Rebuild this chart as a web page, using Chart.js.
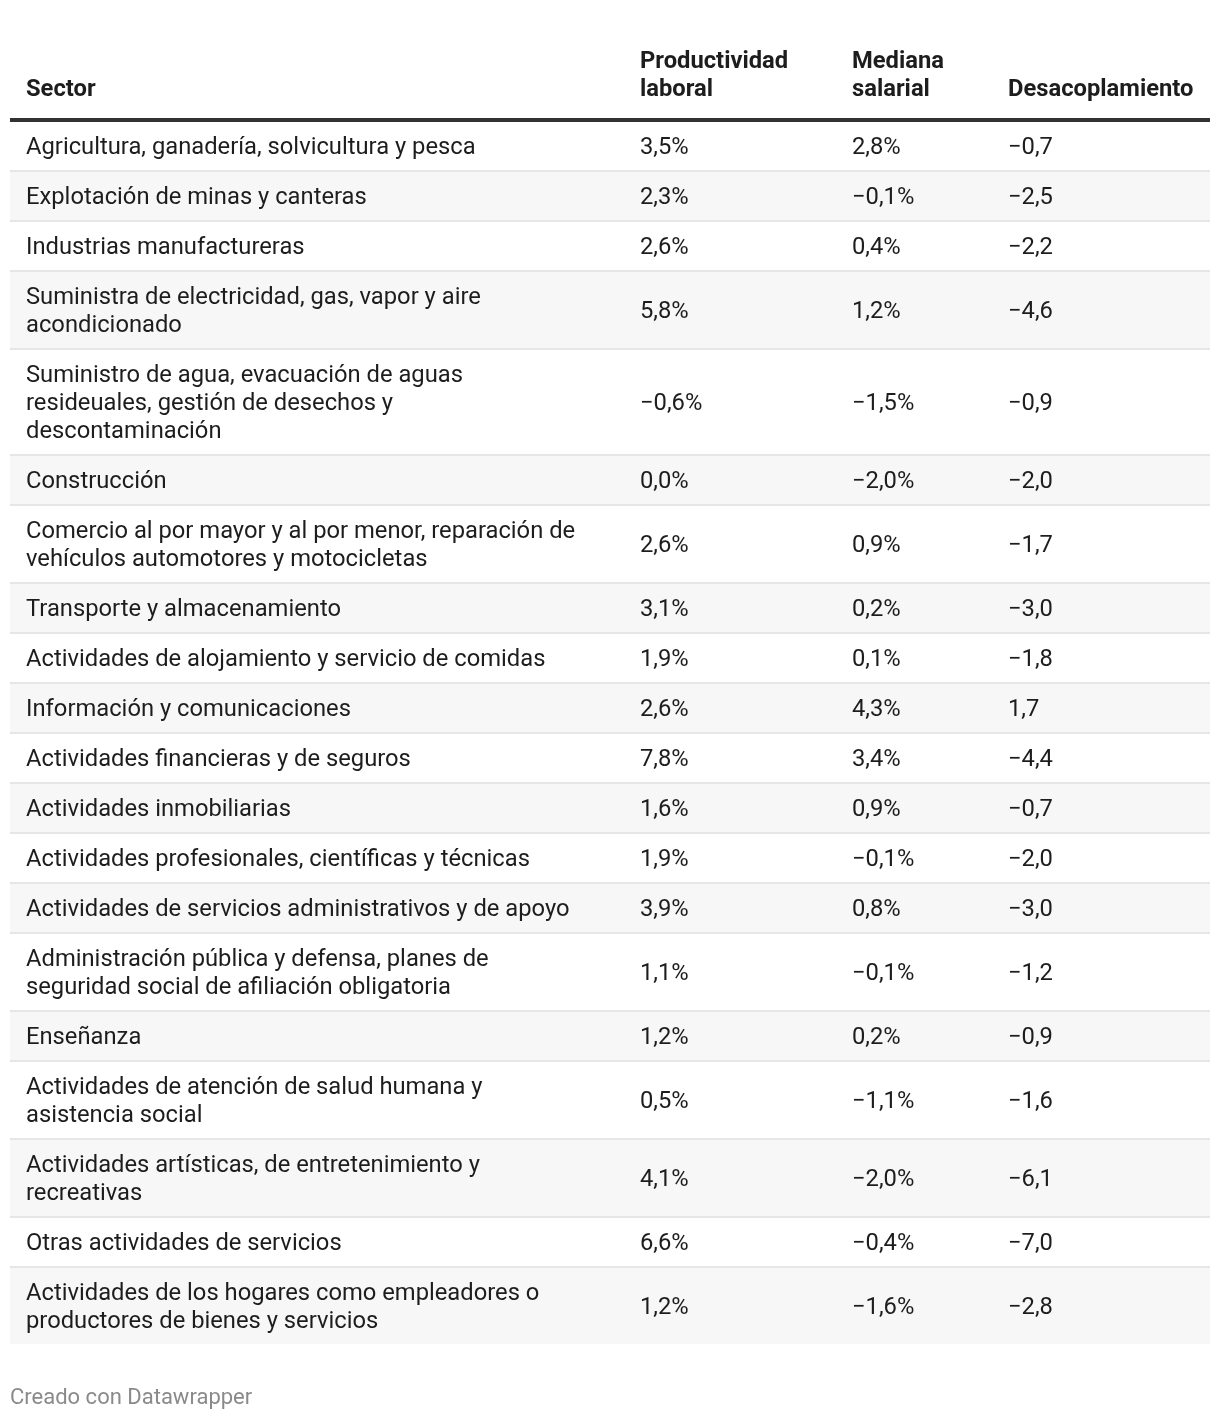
<!DOCTYPE html>
<html>
<head>
<meta charset="utf-8">
<script src="https://cdn.jsdelivr.net/npm/chart.js@4.4.0/dist/chart.umd.min.js"></script>
<style>
  body { margin: 0; background: #fff; }
</style>
</head>
<body>
<canvas id="tabla" width="1220" height="1420"></canvas>
<script>
// column headers
let headers = [["Sector"], ["Productividad", "laboral"], ["Mediana", "salarial"], ["Desacoplamiento"]];

// sector names, already split into the lines they wrap to
let sectors = [
    ["Agricultura, ganadería, solvicultura y pesca"],
    ["Explotación de minas y canteras"],
    ["Industrias manufactureras"],
    ["Suministra de electricidad, gas, vapor y aire", "acondicionado"],
    ["Suministro de agua, evacuación de aguas", "resideuales, gestión de desechos y", "descontaminación"],
    ["Construcción"],
    ["Comercio al por mayor y al por menor, reparación de", "vehículos automotores y motocicletas"],
    ["Transporte y almacenamiento"],
    ["Actividades de alojamiento y servicio de comidas"],
    ["Información y comunicaciones"],
    ["Actividades financieras y de seguros"],
    ["Actividades inmobiliarias"],
    ["Actividades profesionales, científicas y técnicas"],
    ["Actividades de servicios administrativos y de apoyo"],
    ["Administración pública y defensa, planes de", "seguridad social de afiliación obligatoria"],
    ["Enseñanza"],
    ["Actividades de atención de salud humana y", "asistencia social"],
    ["Actividades artísticas, de entretenimiento y", "recreativas"],
    ["Otras actividades de servicios"],
    ["Actividades de los hogares como empleadores o", "productores de bienes y servicios"]
];

let productividad = [3.5, 2.3, 2.6, 5.8, -0.6, 0.0, 2.6, 3.1, 1.9, 2.6, 7.8, 1.6, 1.9, 3.9, 1.1, 1.2, 0.5, 4.1, 6.6, 1.2];
let mediana = [2.8, -0.1, 0.4, 1.2, -1.5, -2.0, 0.9, 0.2, 0.1, 4.3, 3.4, 0.9, -0.1, 0.8, -0.1, 0.2, -1.1, -2.0, -0.4, -1.6];
let desacoplamiento = [-0.7, -2.5, -2.2, -4.6, -0.9, -2.0, -1.7, -3.0, -1.8, 1.7, -4.4, -0.7, -2.0, -3.0, -1.2, -0.9, -1.6, -6.1, -7.0, -2.8];

let footer = "Creado con Datawrapper";

// layout
const colX = [16, 630, 842, 998];
const lineH = 28;
const rowPad = 22;
const textShift = 2;
const font = "Roboto, 'Noto Sans', sans-serif";

function fmt(v, pct) {
    let s = Math.abs(v).toFixed(1).replace(".", ",");
    if (v < 0) s = "\u2212" + s;
    return pct ? s + "%" : s;
}

// row tops in body units
let rowTop = [];
let total = 0;
sectors.forEach((s) => {
    rowTop.push(total);
    total += rowPad + lineH * s.length;
});

const tablePlugin = {
    id: 'tabla',
    beforeDatasetsDraw(chart) {
        const ctx = chart.ctx;
        const x = chart.scales.x;
        const y = chart.scales.y;
        const left = x.getPixelForValue(0);
        const right = x.getPixelForValue(1200);
        ctx.save();

        // header
        ctx.fillStyle = '#1d1d1d';
        ctx.font = "bold 23.75px " + font;
        ctx.textBaseline = 'middle';
        headers.forEach((h, c) => {
            h.forEach((line, k) => {
                let yy = y.getPixelForValue(-34 + textShift - lineH * (h.length - 1 - k));
                ctx.fillText(line, x.getPixelForValue(colX[c]), yy);
            });
        });
        ctx.fillStyle = '#333333';
        ctx.fillRect(left, y.getPixelForValue(-4), right - left, y.getPixelForValue(0) - y.getPixelForValue(-4));

        // rows
        sectors.forEach((s, i) => {
            let top = rowTop[i];
            let h = rowPad + lineH * s.length;
            let yTop = y.getPixelForValue(top);
            let yBot = y.getPixelForValue(top + h - 2);
            if (i % 2 == 1) {
                ctx.fillStyle = '#f7f7f7';
                ctx.fillRect(left, yTop, right - left, yBot - yTop);
            }
            if (i < sectors.length - 1) {
                ctx.fillStyle = '#e6e6e6';
                ctx.fillRect(left, yBot, right - left, y.getPixelForValue(top + h) - yBot);
            }
            let mid = top + (h - 2) / 2 + textShift;
            ctx.fillStyle = '#1d1d1d';
            ctx.font = "23.75px " + font;
            s.forEach((line, k) => {
                let yy = y.getPixelForValue(mid + (k - (s.length - 1) / 2) * lineH);
                ctx.fillText(line, x.getPixelForValue(colX[0]), yy);
            });
            let yc = y.getPixelForValue(mid);
            ctx.fillText(fmt(productividad[i], true), x.getPixelForValue(colX[1]), yc);
            ctx.fillText(fmt(mediana[i], true), x.getPixelForValue(colX[2]), yc);
            ctx.fillText(fmt(desacoplamiento[i], false), x.getPixelForValue(colX[3]), yc);
        });

        // footer
        ctx.fillStyle = '#8a8a8a';
        ctx.font = "22px " + font;
        ctx.fillText(footer, x.getPixelForValue(0), y.getPixelForValue(total + 52));
        ctx.restore();
    }
};

new Chart(document.getElementById('tabla').getContext('2d'), {
    type: 'scatter',
    data: { datasets: [{ data: [] }] },
    options: {
        responsive: false,
        animation: false,
        devicePixelRatio: 1,
        layout: { padding: { left: 10, right: 10, top: 122, bottom: 1420 - 122 - total } },
        plugins: { legend: { display: false }, tooltip: { enabled: false } },
        scales: {
            x: { type: 'linear', min: 0, max: 1200, display: false },
            y: { type: 'linear', min: 0, max: total, reverse: true, display: false }
        }
    },
    plugins: [tablePlugin]
});
</script>
</body>
</html>
